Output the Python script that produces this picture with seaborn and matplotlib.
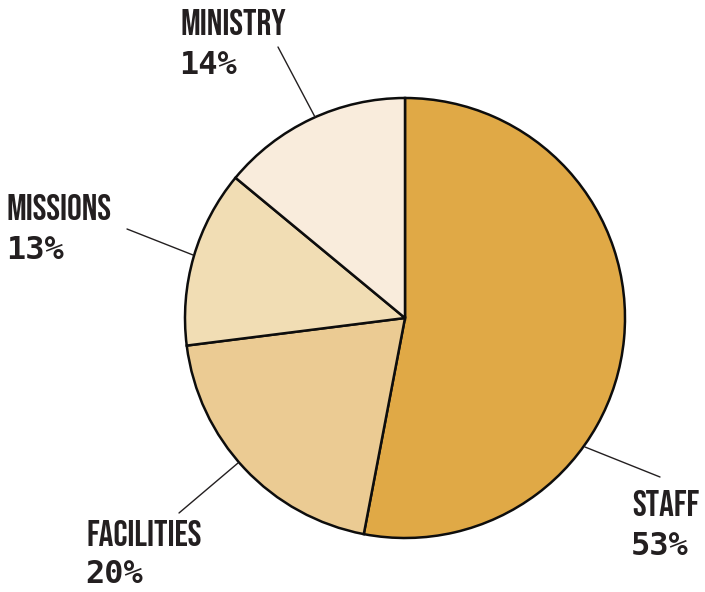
import matplotlib
matplotlib.use("Agg")
import matplotlib.pyplot as plt
import seaborn as sns

categories = ["STAFF", "FACILITIES", "MISSIONS", "MINISTRY"]
values = [53, 20, 13, 14]
colors = ["#E0A946", "#EBCB93", "#F1DDB4", "#F9ECDC"]

sns.set_theme(style="white")
plt.rcParams['font.family'] = ['DejaVu Sans']

W, H = 705, 592
fig = plt.figure(figsize=(W / 100, H / 100), dpi=100)
ax = fig.add_axes([0, 0, 1, 1])

cx, cy, r = 405, H - 318, 220
ax.pie(values, colors=colors, startangle=90, counterclock=False,
       center=(cx, cy), radius=r,
       wedgeprops=dict(edgecolor="#0d0d0d", linewidth=1.8))
ax.set_xlim(0, W)
ax.set_ylim(0, H)
ax.set_aspect('equal')
ax.axis('off')

txt = "#231F20"
# layout: (x, name baseline y, pct baseline y, leader start, leader end) in pixels
layout = {
    "MINISTRY": (180, 35, 74, (278, 47), (315, 117)),
    "MISSIONS": (7, 220, 259, (127, 229), (193, 255)),
    "FACILITIES": (86, 546, 583, (179, 513), (238, 463)),
    "STAFF": (632, 516, 555, (660, 477), (585, 447)),
}
for cat, val in zip(categories, values):
    x, ny, py, p0, p1 = layout[cat]
    ax.text(x, H - ny, cat, ha='left', va='baseline', color=txt,
            fontsize=26.5, family='Bebas Neue')
    ax.text(x - 1, H - py, f"{val}%", ha='left', va='baseline', color=txt,
            fontsize=23, fontweight='bold', family='DejaVu Sans Mono')
    ax.plot([p0[0], p1[0]], [H - p0[1], H - p1[1]], color=txt, lw=1.0)

fig.savefig("out.png", dpi=100)
